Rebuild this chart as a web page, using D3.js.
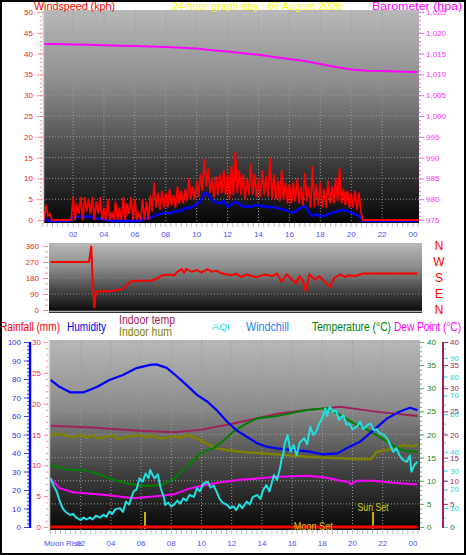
<!DOCTYPE html>
<html><head><meta charset="utf-8">
<script src="https://cdn.jsdelivr.net/npm/d3@7"></script>
<style>body{margin:0;background:#fff}svg{display:block}</style>
</head><body><svg id="c" width="466" height="555"></svg>
<script>
// ---------------- DATA ----------------
const titleText = "24 hour graph day : 07 August 2026";
const hourTicks = [2,4,6,8,10,12,14,16,18,20,22,24];
const hourLabels = ["02","04","06","08","10","12","14","16","18","20","22","00"];
const windStep = 0.25; // hours between samples
const gustMax = [3.6,3.6,1.5,0,0,0,0,0, 5.5,4,5.5,5.5,5,5.5,4.5,5.5, 3,5,2,4.5,3,5.5,4,5.5,
  5,1.5,5,4.5,6,9,6.5,7, 6.5,7.5,6,8,7,7.5,10,8, 9.5,11,14.7,12.5,10,10.5,11,12,
  11,13,16.4,12,11,10,13.5,11, 10,12,10.5,14.9,11,9.5,12,9, 8.5,9,10,8,11.3,8,13,8.5,
  9,7.5,9.5,8,10,12.5,7.5,7, 6.5,7,6.5,0,0,0,0,0, 0,0,0,0,0,0,0,0,0,0];
const gustMin = [0,1,0,0,0,0,0,0, 0,1.5,0,2,1.5,0,1.5,0, 0,0,0,0,0,0,1.5,0,
  0,0,0,0,2,3,2.5,3, 3,3.5,3,4,4,4.5,5,5, 5.5,7,8,6.5,5.5,6,6.5,6,
  5,6,6.5,6,5,6,6,5.5, 5.5,6,5.5,5,5,4.5,5,4, 4,4.5,4,3.5,4.5,3,3,3.5,
  3,3,4,4,4.5,4,3.5,3, 3,2.5,2,0,0,0,0,0, 0,0,0,0,0,0,0,0,0,0];
const windAvg = [0.8,0.3,0,0,0,0,0,0, 0.8,1,1.2,0.9,1.2,0.8,0.5,0.6, 0.3,0.2,0,0,0,0,0,0,
  0,0,0.3,0.6,0.8,1.2,1.6,1.8, 2,1.8,2.2,2.4,2.4,3.2,3,3.6, 4,4.8,6.8,6.4,5,4.4,4.2,4.8,
  3.4,4,4.6,4.2,3.4,3.6,3.4,3.8, 3.8,3.4,3.6,3.2,3.4,3,2.9,2.6, 2.2,2,2.6,3.2,3.6,2.2,1.2,1.6,
  1.2,1.2,1.6,2,2.2,2.6,2.6,2.4, 2,1.6,1.2,0,0,0,0,0, 0,0,0,0,0,0,0,0,0,0];
const baroHour = [0,1,2,3,4,5,6,7,8,9,10,11,12,13,14,15,16,17,18,19,20,21,22,23,24,24.3];
const baroHpa = [1017.3,1017.3,1017.2,1017.1,1017.0,1016.9,1016.8,1016.7,1016.6,1016.4,1016.2,1015.8,1015.5,
  1015.1,1014.7,1014.2,1013.7,1013.2,1012.5,1011.8,1011.2,1010.9,1010.8,1010.7,1010.6,1010.6];
const dirHour = [0,2.55,2.7,2.78,2.9,3.0, 3.3,3.9,4.3,4.8,5.3,5.9,6.7, 7.1,7.4,7.9,8.2,8.4,8.7,8.85,9.0,
  9.35,9.7,10.0,10.4,10.7,11.0,11.35,11.7, 12.0,12.3,12.65,13.0,13.35,13.7,14.0,14.3,
  14.65,15.0,15.3,15.65,16.0,16.25,16.5,16.7, 16.9,17.15,17.5,17.8,18.15,18.5,18.8,19.2,
  19.5,19.8,20.15,20.5,20.7,24.3];
const dirDeg = [270,270,360,180,10,100, 105,105,110,120,160,165,165, 180,195,200,195,215,230,210,230,
  215,225,210,230,215,220,205,200, 195,205,185,200,190,185,195,200,
  190,205,160,200,170,150,190,165, 110,200,170,190,160,130,180,200,
  185,195,190,200,205,205];
const humHour = [0,0.6,1.3,2.2,3.1,3.9,4.8,5.7,6.6,7.0, 7.7,8.4,9.0,9.7,10.4,11.0,11.7,12.3,13.0,13.7,
  14.3,15.0,16.1,17.2,18.0,19.0,19.6,20.5,21.4,22.3, 23.1,23.8,24.3];
const humVal = [79.5,75.8,72.8,72.8,75.8,79.5,82.2,85.9,87.6,87.9, 86,81.2,76.8,71.4,67.7,63.2,56.9,52.4,48.8,45.2,
  43.4,42.5,41.6,40.7,39.3,39.8,42.5,46.1,52.4,58.7, 62.3,64.5,63.2];
const tempHour = [0,1.3,2.2,3.1,3.9,5.0,5.9,6.8,7.5,8.2, 8.8,9.5,10.1,10.8,11.5,12.1,13.0,13.7,14.8,15.9,
  17.0,18.3,19.2,20.1,21.0,21.9,22.8,23.6,24.3];
const tempVal = [13.4,12.3,12.3,11.6,10.5,9.5,8.9,8.9,9.2,10.5, 12.3,14.5,16.3,17,18.8,20.6,22.4,23.5,23.9,24.6,
  25.3,25.7,24.2,22.4,21,19.2,17.4,16.3,16.3];
const inTempHour = [0,2.7,5.9,8.2,9.9,11.7,13.4,15.2,17.0,19.2,21.4,24.3];
const inTempVal = [21.9,21.5,20.8,20.5,21,22.1,23.3,24.6,25.3,26,25,24];
const inHumHour = [0,0.3,0.6,1.0,1.5,2.0,2.4,2.8,3.2,3.7, 4.1,4.5,5.0,5.4,5.9,6.3,6.8,7.2,7.7,8.1,
  8.6,9.0,9.5,9.9,10.5,11.0,11.8,12.6,13.7,14.8, 16.0,17.0,18.0,19.2,20.2,21.2,21.4,21.6,22.2,22.8, 23.4,24.0,24.3];
const inHumVal = [48.8,50.6,50,49.4,48.5,49.8,48.2,49.5,47.8,48.8, 49.6,47.5,48.6,49.2,49.7,48.4,49.5,47.9,48.3,49.1,
  48.2,49.7,48.5,47,44.5,42.5,41.5,40.7,40,39.3, 38.6,38,37.6,37.1,36.8,36.6,38.5,40.7,41.5,42.5, 44.3,43.5,44.7];
const dewHour = [0,0.6,1.5,3.7,5.5,6.8,8.2,9.3,10.4,11.5, 12.6,14.8,17.0,18.2,19.2,19.7,19.9,20.3,21.4,22.5, 24.3];
const dewVal = [10.5,8.4,7.5,6.9,6.2,6.6,7.1,8.4,9.2,9.8, 10.2,10.8,11.1,10.7,10,9.8,9.2,10,10,9.6, 9.2];
const aqiHour = [0,0.2,0.4,0.6,0.8,1.0,1.3,1.5,1.7,2.0, 2.2,2.4,2.6,2.8,3.0,3.3,3.5,3.7,3.9,4.1,
  4.3,4.6,4.8,5.0,5.2,5.5,5.7,5.9,6.1,6.3, 6.5,6.6,6.8,6.9,7.1,7.3,7.5,7.6,7.8,8.0,
  8.2,8.4,8.6,8.8,9.0,9.2,9.5,9.7,9.9,10.1, 10.4,10.6,10.8,11.0,11.2,11.4,11.7,11.9,12.1,12.3,
  12.5,12.7,13.0,13.2,13.4,13.7,13.9,14.1,14.3,14.5, 14.8,15.0,15.2,15.3,15.4,15.5,15.7,15.9,16.1,16.3,
  16.5,16.8,17.0,17.2,17.4,17.6,17.8,18.0,18.2,18.3, 18.5,18.7,18.9,19.1,19.4,19.6,19.8,20.0,20.3,20.5,
  20.7,21.0,21.2,21.4,21.6,21.8,22.1,22.3,22.5,22.7, 22.9,23.1,23.3,23.6,23.8,23.9,24.1,24.3];
const aqiVal = [26,22,19,14,10,8,6.4,7,5,3.7, 5,4,5,4,6,5,6.5,5.5,8.2,7,
  9.5,10,8,13.5,12,18.8,20,25.9,24,28.5, 26,30.3,27,25.9,28,20.6,16,11.7,13,11,
  12,14,12.5,15.3,14,17,16,20.6,19,23, 24.1,21,22,18.8,15,13,11.7,10,11,9,
  12,10,13.5,12,16,17,15,20,22.3,19, 27.7,25,31.2,36,38.3,44,48.9,40,43.6,38,
  45,47.2,44,53.4,49,50.7,55,58,63.1,59, 64,61.3,62,57,59.6,54.3,55,52,53.4,56,
  52,54.3,55,51.6,52,50,48.9,47,43.6,40, 42,38.3,36,34.7,38,29.4,33,34.7];
const rainHour = [0,24.3];
const rainVal = [0,0];
const sunMarkHours = [6.26,21.36];
const moonSetHour = 17.4;
const tempTicks = [0,5,10,15,20,25,30,35,40];
const aqiTicks = [0,10,20,30,40,60,70,80,90];
const dirTicks = [0,90,180,270,360];
const compass = ["N","W","S","E","N"];

// ---------------- DRAW ----------------
const FONT = "'Liberation Sans', Arial, sans-serif";
const svg = d3.select("#c");
const defs = svg.append("defs");
const gr = defs.append("linearGradient").attr("id","bg").attr("x1",0).attr("y1",0).attr("x2",0).attr("y2",1);
[[0,"#b8b8b8"],[0.35,"#8c8c8c"],[0.7,"#404040"],[1,"#060606"]].forEach(s=>gr.append("stop").attr("offset",s[0]).attr("stop-color",s[1]));

function panel(id,x0,y0,x1,y1){
  svg.append("rect").attr("x",x0).attr("y",y0).attr("width",x1-x0).attr("height",y1-y0).attr("fill","url(#bg)");
  defs.append("clipPath").attr("id",id).append("rect").attr("x",x0).attr("y",y0).attr("width",x1-x0).attr("height",y1-y0);
  return svg.append("g").attr("clip-path",`url(#${id})`);
}
function axisG(axis,x,y,tickColor,textColor,fs){
  const g = svg.append("g").attr("transform",`translate(${x},${y})`).call(axis)
    .attr("font-size",fs||8).attr("font-family",FONT);
  g.select(".domain").remove();
  g.selectAll("line").attr("stroke",tickColor);
  g.selectAll("text").attr("fill",textColor);
  return g;
}
function txt(s,x,y,color,fs,len,anchor){
  const t = svg.append("text").attr("x",x).attr("y",y).attr("fill",color)
    .attr("font-size",fs).attr("font-family",FONT).attr("text-anchor",anchor||"start").text(s);
  if(len) t.attr("textLength",len).attr("lengthAdjust","spacingAndGlyphs");
  return t;
}

// ===== Top panel: wind speed + barometer =====
const xTop = d3.scaleLinear().domain([0,24]).range([42.2, 42.2+15.45*24]);
const yWind = d3.scaleLinear().domain([0,50]).range([220,12]);
const yBaro = d3.scaleLinear().domain([975,1025]).range([220,12]);
const gTop = panel("cpTop",43,10,419,223);
gTop.selectAll(".hg").data(d3.range(5,50,5)).join("line")
  .attr("x1",43).attr("x2",419).attr("y1",d=>yWind(d)).attr("y2",d=>yWind(d))
  .attr("stroke","#9a9a9a").attr("stroke-dasharray","1,2");
gTop.selectAll(".vg").data(hourTicks.slice(0,11)).join("line")
  .attr("x1",d=>xTop(d)).attr("x2",d=>xTop(d)).attr("y1",10).attr("y2",223)
  .attr("stroke","#9a9a9a").attr("stroke-dasharray","1,2");
gTop.append("path").datum(windAvg).attr("fill","none").attr("stroke","#0000ff").attr("stroke-width",2.4)
  .attr("d",d3.line().x((d,i)=>xTop(i*windStep)).y(d=>yWind(d)+1));
const gustPts = [];
gustMax.forEach((v,i)=>{ gustPts.push([i*windStep,v]); gustPts.push([i*windStep+windStep/2,gustMin[i]]); });
gTop.append("path").datum(gustPts).attr("fill","none").attr("stroke","#ff0000").attr("stroke-width",1.8)
  .attr("d",d3.line().x(d=>xTop(d[0])).y(d=>yWind(d[1])));
gTop.append("path").datum(baroHour.map((h,i)=>[h,baroHpa[i]])).attr("fill","none").attr("stroke","#ff00ff").attr("stroke-width",2)
  .attr("d",d3.line().x(d=>xTop(d[0])).y(d=>yBaro(d[1])));
svg.append("line").attr("x1",43.5).attr("x2",43.5).attr("y1",10).attr("y2",224).attr("stroke","#cfcfcf").attr("stroke-width",1.5);
svg.selectAll(".tt").data(d3.range(0,24.34,1/3)).join("line")
  .attr("x1",d=>xTop(d)).attr("x2",d=>xTop(d)).attr("y1",223).attr("y2",227).attr("stroke","#bdbdbd");
svg.selectAll(".tl").data(hourTicks).join("text")
  .attr("x",d=>xTop(d)).attr("y",237).attr("text-anchor","middle").attr("font-size",8).attr("font-family",FONT)
  .attr("fill","#5050ff").text((d,i)=>hourLabels[i]);
axisG(d3.axisLeft(yWind).tickValues(d3.range(0,51,1)).tickSize(2).tickFormat(""),42,0,"#ff8c8c","#ff2020");
axisG(d3.axisLeft(yWind).tickValues(d3.range(0,51,5)).tickSize(6).tickPadding(4),43,0,"#ff8c8c","#ff2020");
axisG(d3.axisRight(yBaro).tickValues(d3.range(975,1026,1)).tickSize(2).tickFormat(""),419,0,"#ff60ff","#ff30ff");
axisG(d3.axisRight(yBaro).tickValues(d3.range(975,1026,5)).tickSize(5).tickPadding(2),419,0,"#ff60ff","#ff30ff");
txt("Windspeed (kph)",34,10,"#ff0000",11,81);
txt(titleText,172,10,"#ffff00",11,170);
txt("Barometer (hpa)",372,10,"#ff00ff",11,90);

// ===== Wind direction panel =====
const xBot = d3.scaleLinear().domain([0,24]).range([50.5, 50.5+15.1*24]);
const yDir = d3.scaleLinear().domain([0,360]).range([310,246]);
const gDir = panel("cpDir",49,243,422,313);
gDir.selectAll(".dg").data([90,180,270]).join("line")
  .attr("x1",49).attr("x2",422).attr("y1",d=>yDir(d)).attr("y2",d=>yDir(d))
  .attr("stroke","#8a8a8a").attr("stroke-dasharray","1,2");
gDir.append("line").attr("x1",49).attr("x2",422).attr("y1",311.5).attr("y2",311.5).attr("stroke","#b0b0b0").attr("stroke-width",1.5);
gDir.append("path").datum(dirHour.map((h,i)=>[h,dirDeg[i]])).attr("fill","none").attr("stroke","#ff0000").attr("stroke-width",2)
  .attr("d",d3.line().x(d=>xBot(d[0])).y(d=>yDir(d[1])));
axisG(d3.axisLeft(yDir).tickValues(d3.range(0,361,30)).tickSize(3).tickFormat(""),48,0,"#ff8c8c","#ff2020");
axisG(d3.axisLeft(yDir).tickValues(dirTicks).tickSize(5).tickPadding(4),48,0,"#ff8c8c","#ff2020");
svg.selectAll(".cp").data(compass).join("text")
  .attr("x",439).attr("y",(d,i)=>yDir(360-i*90)+4).attr("text-anchor","middle")
  .attr("font-size",12).attr("font-family",FONT).attr("fill","#ff0000").text(d=>d);

// ===== Bottom panel =====
const yRain = d3.scaleLinear().domain([0,30]).range([527,342]);
const yHum = d3.scaleLinear().domain([0,100]).range([527,342]);
const yTemp = d3.scaleLinear().domain([0,40]).range([527,342]);
const yAqi = d3.scaleLinear().domain([0,100]).range([527,339]);
const gBot = panel("cpBot",49,340,420,530);
gBot.selectAll(".bh").data(tempTicks.slice(1)).join("line")
  .attr("x1",49).attr("x2",420).attr("y1",d=>yTemp(d)).attr("y2",d=>yTemp(d))
  .attr("stroke","#9a9a9a").attr("stroke-dasharray","1,2");
gBot.selectAll(".bv").data(hourTicks.slice(0,11)).join("line")
  .attr("x1",d=>xBot(d)).attr("x2",d=>xBot(d)).attr("y1",340).attr("y2",530)
  .attr("stroke","#9a9a9a").attr("stroke-dasharray","1,2");
function series(hours,vals,y,color,w){
  gBot.append("path").datum(hours.map((h,i)=>[h,vals[i]])).attr("fill","none").attr("stroke",color)
    .attr("stroke-width",w).attr("stroke-linejoin","round")
    .attr("d",d3.line().x(d=>xBot(d[0])).y(d=>y(d[1])));
}
series(inHumHour,inHumVal,yHum,"#808000",2.5);
series(inTempHour,inTempVal,yTemp,"#a0205a",2);
series(tempHour,tempVal,yTemp,"#008000",2);
series(dewHour,dewVal,yTemp,"#ff00ff",2);
series(humHour,humVal,yHum,"#0000ff",2.2);
series(aqiHour,aqiVal,yAqi,"#20e0e0",2);
gBot.selectAll(".sm").data(sunMarkHours).join("line")
  .attr("x1",d=>xBot(d)).attr("x2",d=>xBot(d)).attr("y1",512).attr("y2",529)
  .attr("stroke","#c8b400").attr("stroke-width",2);
series(rainHour,rainVal,yRain,"#ff0000",3);
svg.append("line").attr("x1",49.5).attr("x2",49.5).attr("y1",340).attr("y2",531).attr("stroke","#cfcfcf").attr("stroke-width",1.5);
svg.selectAll(".bt").data(d3.range(0,24.34,1/3)).join("line")
  .attr("x1",d=>xBot(d)).attr("x2",d=>xBot(d)).attr("y1",530).attr("y2",534).attr("stroke","#bdbdbd");
txt("Sun Set",xBot(sunMarkHours[1]),511,"#d8c800",10,31,"middle");
txt("Moon Set",xBot(moonSetHour),530,"#d8c000",10,39,"middle");
txt("Moon Rise",44,546,"#5050ff",8,38);
svg.selectAll(".bl").data(hourTicks).join("text")
  .attr("x",d=>xBot(d)).attr("y",546).attr("text-anchor","middle").attr("font-size",8).attr("font-family",FONT)
  .attr("fill","#5050ff").text((d,i)=>hourLabels[i]);
svg.append("line").attr("x1",30).attr("x2",30).attr("y1",342).attr("y2",528).attr("stroke","#0000ff").attr("stroke-width",2.5);
axisG(d3.axisLeft(yHum).tickValues(d3.range(0,101,2)).tickSize(2).tickFormat(""),29,0,"#4040ff","#3030ff");
axisG(d3.axisLeft(yHum).tickValues(d3.range(0,101,10)).tickSize(5).tickPadding(3),29,0,"#4040ff","#3030ff");
axisG(d3.axisLeft(yRain).tickValues(d3.range(0,31,1)).tickSize(2).tickFormat(""),48,0,"#ff8c8c","#ff2020");
axisG(d3.axisLeft(yRain).tickValues(d3.range(0,31,5)).tickSize(4).tickPadding(3),48,0,"#ff8c8c","#ff2020");
axisG(d3.axisRight(yTemp).tickValues(d3.range(0,41,1)).tickSize(2).tickFormat(""),420,0,"#60b060","#108010");
axisG(d3.axisRight(yTemp).tickValues(tempTicks).tickSize(4).tickPadding(3),420,0,"#60b060","#108010");
svg.append("line").attr("x1",443).attr("x2",443).attr("y1",342).attr("y2",528).attr("stroke","#a0205a").attr("stroke-width",2);
axisG(d3.axisRight(yTemp).tickValues(tempTicks).tickSize(4).tickPadding(2),444,0,"#a0285a","#a0285a");
axisG(d3.axisRight(yAqi).tickValues(d3.range(0,96,5)).tickSize(2).tickFormat(""),444,0,"#40e0e0","#20d8d8");
axisG(d3.axisRight(yAqi).tickValues(aqiTicks).tickSize(4).tickPadding(2),444,0,"#40e0e0","#20d8d8");
txt("Rainfall (mm)",0,331,"#ff0000",12,60);
txt("Humidity",67,331,"#0000ff",12,39);
txt("Indoor temp",119,324,"#a0205a",12,56);
txt("Indoor hum",119,336,"#808000",12,53);
txt("AQI",212,330,"#20e0e0",9,18);
txt("Windchill",246,331,"#2080ff",12,43);
txt("Temperature (°C)",312,331,"#008000",12,79);
txt("Dew Point (°C)",394,331,"#ff00ff",12,67);
svg.append("rect").attr("x",1).attr("y",1).attr("width",464).attr("height",553).attr("fill","none").attr("stroke","#000").attr("stroke-width",2);
</script>
</body></html>
